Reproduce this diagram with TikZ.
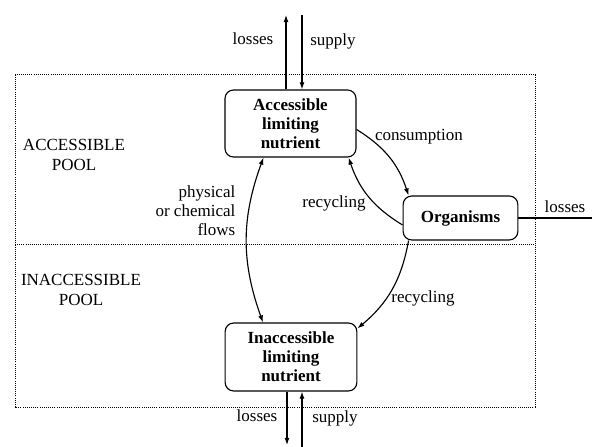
\documentclass[tikz,border=0pt]{standalone}
\usepackage{fontspec}
\setmainfont{Liberation Serif}
\usepackage{tikz}
\usetikzlibrary{calc,arrows.meta}
\tikzset{
  box/.style={draw, line width=0.8pt, rounded corners=6pt, align=center, font=\fontsize{12}{13.5}\selectfont\bfseries, inner sep=2pt},
  flow/.style={draw, line width=0.8pt, -{Latex[length=5pt,width=3.5pt]}},
  flows/.style={draw, line width=0.8pt, {Latex[length=5pt,width=3.5pt]}-{Latex[length=5pt,width=3.5pt]}},
  pool/.style={draw, line width=0.7pt, dash pattern=on 0.7pt off 0.8pt},
  lab/.style={font=\fontsize{12}{13.5}\selectfont, inner sep=1pt},
}

\begin{document}
\begin{tikzpicture}[x=0.706pt, y=0.706pt]
  \useasboundingbox (0,0) rectangle (592,447);
  % pools
  \draw[pool] (15,40) rectangle (535,372);
  \draw[pool] (15,202) -- (535,202);
  \node[lab, align=center] (accpool) at (74,292) {ACCESSIBLE\\POOL};
  \node[lab, align=center] (inaccpool) at (81,157) {INACCESSIBLE\\POOL};
  % nutrient boxes
  \node[box, minimum width=92.5pt, minimum height=47.3pt] (acc) at (290.5,323.5) {Accessible\\limiting\\nutrient};
  \node[box, minimum width=81pt, minimum height=31pt] (org) at (460.5,229) {Organisms};
  \node[box, minimum width=93pt, minimum height=48pt] (inacc) at (291,90) {Inaccessible\\limiting\\nutrient};
  % supply and losses
  \coordinate (toplosses) at (286,432);
  \coordinate (topsupply) at (302,432);
  \coordinate (botlosses) at (287,2);
  \coordinate (botsupply) at (302,0);
  \coordinate (orglosses) at (592,229);
  \draw[flow] (toplosses |- acc.north) -- (toplosses);
  \draw[flow] (topsupply) -- (topsupply |- acc.north);
  \draw[flow] (botlosses |- inacc.south) -- (botlosses);
  \draw[flow] (botsupply) -- (botsupply |- inacc.south);
  \draw[line width=0.8pt] (org.east) -- (orglosses);
  \node[lab] (toplosslab) at (253,408) {losses};
  \node[lab] (topsupplylab) at (333,406) {supply};
  \node[lab] (botlosslab) at (257,31) {losses};
  \node[lab] (botsupplylab) at (335,29) {supply};
  \node[lab] (orglosslab) at (565,240) {losses};
  % internal flows
  \draw[flows] ($(acc.south)+(-27,0)$) to[bend right=20] ($(inacc.north)+(-28,0)$);
  \draw[flow] ($(acc.east)+(0,-6)$) to[bend left=20] ($(org.north west)+(6,0)$);
  \draw[flow] ($(org.west)+(0,-7)$) to[bend left=20] ($(acc.south east)+(-8,0)$);
  \draw[flow] ($(org.south west)+(6,0)$) to[bend left=20] ($(inacc.north east)+(0,-6)$);
  \node[lab] (consumption) at (419,310) {consumption};
  \node[lab] (recycleup) at (334,244) {recycling};
  \node[lab] (recycledown) at (423,149) {recycling};
  \node[lab, align=right, anchor=east] (physical) at (237,236) {physical\\or chemical\\flows};
\end{tikzpicture}
\end{document}
